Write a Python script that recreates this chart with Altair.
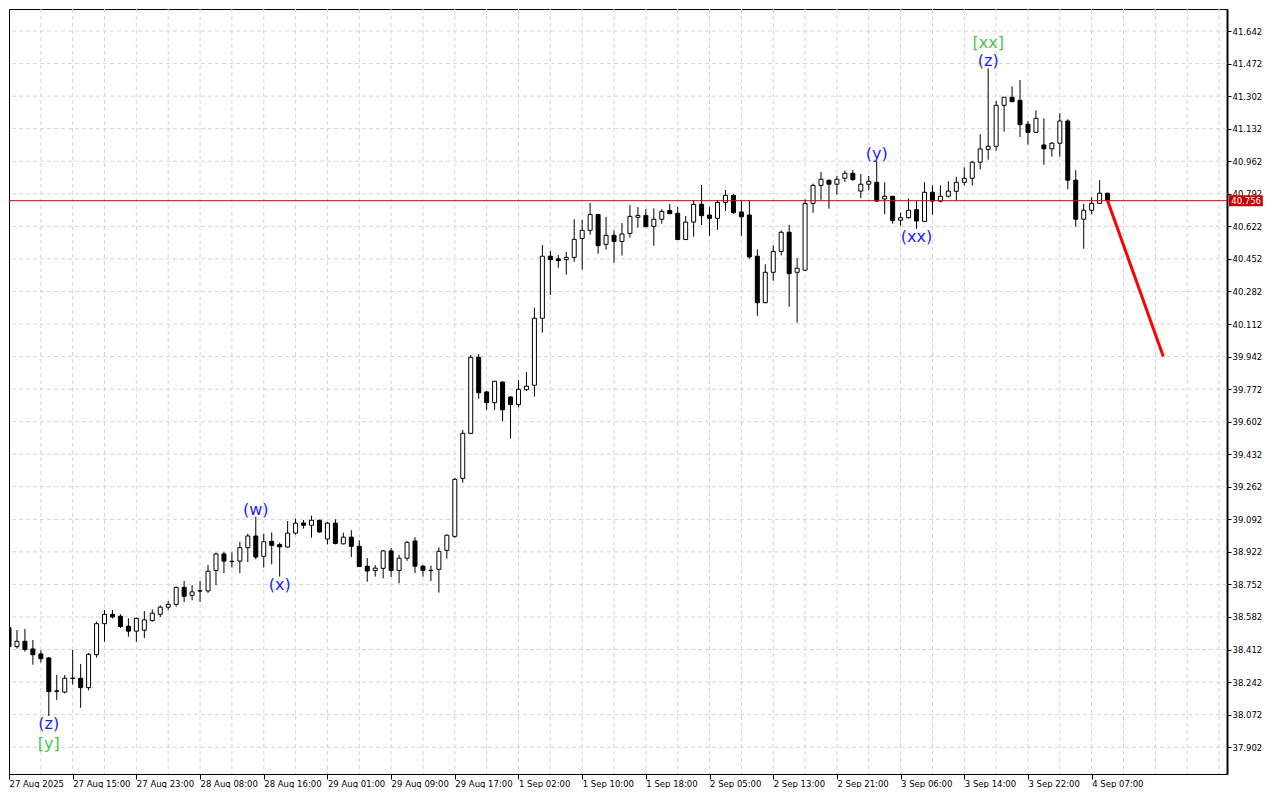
import json
import altair as alt
import numpy as np
import pandas as pd

# ---------------- data ----------------
opens = [38.526, 38.427, 38.455, 38.415, 38.389, 38.368, 38.196, 38.190, 38.261, 38.262,
         38.213, 38.385, 38.547, 38.596, 38.586, 38.534, 38.508, 38.513, 38.563, 38.596,
         38.633, 38.648, 38.737, 38.695, 38.717, 38.718, 38.825, 38.911, 38.871, 38.874,
         38.944, 39.005, 38.899, 38.977, 38.960, 38.947, 39.020, 39.073, 39.061, 39.087,
         38.989, 39.072, 38.964, 38.999, 38.951, 38.847, 38.825, 38.836, 38.927, 38.825,
         38.889, 38.979, 38.847, 38.826, 38.831, 38.930, 39.003, 39.306, 39.541, 39.938,
         39.757, 39.701, 39.809, 39.731, 39.691, 39.769, 39.792, 40.142, 40.466, 40.452,
         40.448, 40.460, 40.559, 40.601, 40.684, 40.528, 40.575, 40.543, 40.585, 40.669,
         40.679, 40.622, 40.659, 40.705, 40.690, 40.553, 40.644, 40.737, 40.681, 40.664,
         40.747, 40.784, 40.697, 40.681, 40.466, 40.223, 40.382, 40.491, 40.591, 40.382,
         40.393, 40.742, 40.836, 40.863, 40.842, 40.873, 40.899, 40.806, 40.842, 40.852,
         40.765, 40.779, 40.654, 40.667, 40.709, 40.648, 40.800, 40.754, 40.779, 40.805,
         40.852, 40.873, 40.957, 41.024, 41.040, 41.254, 41.296, 41.280, 41.155, 41.113,
         41.047, 41.027, 41.056, 41.172, 40.863, 40.659, 40.706, 40.742, 40.795]
highs = [38.530, 38.514, 38.519, 38.462, 38.408, 38.373, 38.279, 38.279, 38.410, 38.337,
         38.394, 38.558, 38.619, 38.619, 38.596, 38.575, 38.579, 38.613, 38.622, 38.643,
         38.666, 38.740, 38.770, 38.748, 38.770, 38.854, 38.918, 38.922, 38.920, 38.975,
         39.017, 39.106, 39.017, 39.024, 38.970, 39.083, 39.096, 39.089, 39.111, 39.090,
         39.078, 39.092, 39.022, 39.035, 38.982, 38.890, 38.853, 38.932, 38.941, 38.906,
         38.977, 38.999, 38.854, 38.850, 38.946, 39.014, 39.308, 39.558, 39.950, 39.955,
         39.762, 39.815, 39.811, 39.734, 39.820, 39.862, 40.197, 40.524, 40.493, 40.472,
         40.488, 40.659, 40.655, 40.744, 40.686, 40.671, 40.601, 40.639, 40.733, 40.723,
         40.712, 40.716, 40.712, 40.738, 40.723, 40.676, 40.759, 40.838, 40.724, 40.758,
         40.812, 40.792, 40.758, 40.758, 40.502, 40.424, 40.523, 40.601, 40.630, 40.455,
         40.763, 40.845, 40.906, 40.865, 40.886, 40.913, 40.916, 40.895, 40.885, 40.963,
         40.852, 40.781, 40.693, 40.768, 40.754, 40.852, 40.836, 40.836, 40.857, 40.881,
         40.930, 40.963, 41.103, 41.447, 41.277, 41.298, 41.353, 41.386, 41.172, 41.228,
         41.186, 41.062, 41.213, 41.181, 40.915, 40.739, 40.774, 40.863, 40.797]
lows = [38.420, 38.417, 38.401, 38.333, 38.344, 38.065, 38.149, 38.183, 38.229, 38.108,
        38.199, 38.370, 38.453, 38.575, 38.525, 38.479, 38.453, 38.472, 38.558, 38.582,
        38.617, 38.636, 38.660, 38.669, 38.660, 38.708, 38.748, 38.811, 38.840, 38.811,
        38.869, 38.883, 38.840, 38.857, 38.793, 38.945, 39.012, 39.044, 38.996, 39.022,
        38.961, 38.961, 38.961, 38.895, 38.843, 38.766, 38.793, 38.784, 38.791, 38.758,
        38.875, 38.811, 38.793, 38.770, 38.709, 38.887, 38.995, 39.283, 39.538, 39.722,
        39.664, 39.664, 39.605, 39.513, 39.676, 39.762, 39.733, 40.067, 40.263, 40.406,
        40.370, 40.437, 40.396, 40.578, 40.479, 40.500, 40.432, 40.470, 40.563, 40.615,
        40.618, 40.521, 40.636, 40.686, 40.551, 40.551, 40.568, 40.629, 40.573, 40.604,
        40.702, 40.688, 40.573, 40.453, 40.155, 40.221, 40.338, 40.470, 40.202, 40.119,
        40.391, 40.693, 40.761, 40.714, 40.787, 40.855, 40.860, 40.769, 40.810, 40.752,
        40.685, 40.636, 40.625, 40.662, 40.610, 40.646, 40.683, 40.747, 40.772, 40.754,
        40.836, 40.836, 40.920, 40.970, 41.017, 41.116, 41.271, 41.089, 41.049, 41.111,
        40.944, 40.986, 40.986, 40.816, 40.620, 40.505, 40.686, 40.740, 40.754]
closes = [38.427, 38.455, 38.412, 38.385, 38.364, 38.192, 38.194, 38.262, 38.263, 38.213,
          38.387, 38.547, 38.596, 38.582, 38.532, 38.508, 38.575, 38.567, 38.602, 38.633,
          38.648, 38.737, 38.690, 38.713, 38.719, 38.821, 38.911, 38.874, 38.873, 38.944,
          39.005, 38.895, 38.975, 38.956, 38.948, 39.020, 39.072, 39.061, 39.087, 39.026,
          39.072, 38.966, 38.999, 38.951, 38.845, 38.822, 38.837, 38.927, 38.825, 38.889,
          38.972, 38.847, 38.825, 38.824, 38.925, 39.009, 39.301, 39.541, 39.938, 39.753,
          39.701, 39.813, 39.664, 39.691, 39.771, 39.787, 40.142, 40.466, 40.448, 40.443,
          40.460, 40.554, 40.601, 40.684, 40.521, 40.575, 40.543, 40.582, 40.674, 40.679,
          40.620, 40.659, 40.700, 40.688, 40.553, 40.644, 40.737, 40.678, 40.664, 40.747,
          40.784, 40.693, 40.672, 40.462, 40.223, 40.382, 40.491, 40.591, 40.375, 40.403,
          40.742, 40.836, 40.868, 40.842, 40.868, 40.899, 40.866, 40.842, 40.857, 40.754,
          40.779, 40.652, 40.667, 40.706, 40.650, 40.800, 40.754, 40.779, 40.806, 40.852,
          40.873, 40.957, 41.026, 41.040, 41.254, 41.296, 41.273, 41.153, 41.113, 41.186,
          41.027, 41.056, 41.172, 40.863, 40.659, 40.706, 40.742, 40.795, 40.756]

time_labels = ["27 Aug 2025", "27 Aug 15:00", "27 Aug 23:00", "28 Aug 08:00", "28 Aug 16:00",
               "29 Aug 01:00", "29 Aug 09:00", "29 Aug 17:00", "1 Sep 02:00", "1 Sep 10:00",
               "1 Sep 18:00", "2 Sep 05:00", "2 Sep 13:00", "2 Sep 21:00", "3 Sep 06:00",
               "3 Sep 14:00", "3 Sep 22:00", "4 Sep 07:00"]
price_ticks = [41.642, 41.472, 41.302, 41.132, 40.962, 40.792, 40.622, 40.452, 40.282,
               40.112, 39.942, 39.772, 39.602, 39.432, 39.262, 39.092, 38.922, 38.752,
               38.582, 38.412, 38.242, 38.072, 37.902]

current_price = 40.756
forecast_bars = [138, 145]
forecast_prices = [40.756, 39.942]

wave_text = ["(z)", "[y]", "(w)", "(x)", "(y)", "(xx)", "(z)", "[xx]"]
wave_bar = [5, 5, 31, 34, 109, 114, 123, 123]
wave_price = [38.065, 38.065, 39.106, 38.793, 40.963, 40.610, 41.447, 41.447]
wave_side = ["below", "below", "above", "below", "above", "below", "above", "above"]
wave_level = [0, 1, 0, 0, 0, 0, 0, 1]
wave_color = ["blue", "green", "blue", "blue", "blue", "blue", "blue", "green"]

# ---------------- tables ----------------
N = len(opens)
df = pd.DataFrame({"i": np.arange(N), "open": opens, "high": highs,
                   "low": lows, "close": closes})
df["dir"] = np.where(df["close"] >= df["open"], "up", "down")

waves = pd.DataFrame({"i": wave_bar, "p": wave_price, "t": wave_text,
                      "side": wave_side, "lvl": wave_level, "c": wave_color})

vgrid = pd.DataFrame({"i": list(range(4, 153, 4))})
hgrid = pd.DataFrame({"p": price_ticks})

X_DOMAIN = [0, 153]
Y_DOMAIN = [37.762, 41.757]
xs = alt.Scale(domain=X_DOMAIN, nice=False, zero=False, padding=0)
ys = alt.Scale(domain=Y_DOMAIN, nice=False, zero=False, padding=0)

FONT = "DejaVu Sans"
WAVE_FONT = "DejaVu Sans"
label_expr = json.dumps(time_labels) + "[round(datum.value / 8)]"
x_axis = alt.Axis(values=list(range(0, 8 * len(time_labels), 8)), labelExpr=label_expr,
                  labelAlign="left", labelBaseline="top", labelFlush=False,
                  labelOverlap=False, grid=False, tickSize=5, labelPadding=0,
                  domainColor="black", tickColor="black", labelColor="black",
                  labelFont=FONT, labelFontSize=8.5, title=None)
y_axis = alt.Axis(orient="right", values=price_ticks, format=".3f", grid=False,
                  tickSize=4, labelPadding=1, domainColor="black", domainWidth=2,
                  tickColor="black", labelColor="black", labelFont=FONT,
                  labelFontSize=8.5, title=None, labelOverlap=False, labelFlush=False)


def X(field):
    return alt.X(f"{field}:Q", scale=xs, axis=x_axis, title=None)


def Y(field):
    return alt.Y(f"{field}:Q", scale=ys, axis=y_axis, title=None)


GRID = "#d6d6d6"
vgrid_l = alt.Chart(vgrid).mark_rule(color=GRID, strokeDash=[4, 3], strokeWidth=1).encode(x=X("i"))
hgrid_l = alt.Chart(hgrid).mark_rule(color=GRID, strokeDash=[4, 3], strokeWidth=1).encode(y=Y("p"))

wicks = alt.Chart(df).mark_rule(color="black", strokeWidth=1, clip=True).encode(
    x=X("i"), y=Y("low"), y2="high")
bodies = alt.Chart(df).mark_bar(size=4, stroke="black", strokeWidth=1, clip=True).encode(
    x=X("i"), y=Y("open"), y2="close",
    fill=alt.Fill("dir:N", scale=alt.Scale(domain=["up", "down"], range=["white", "black"]),
                  legend=None))

price_line = alt.Chart(pd.DataFrame({"p": [current_price]})).mark_rule(
    color="#dd0000", strokeWidth=1).encode(y=Y("p"))

forecast = alt.Chart(pd.DataFrame({"i": forecast_bars, "p": forecast_prices})).mark_line(
    color="#ff0000", strokeWidth=3).encode(x=X("i"), y=Y("p"))

# price tag on the right axis
tag = alt.Chart(pd.DataFrame({"i": [153.25], "i2": [157.5],
                              "p": [current_price + 0.029], "p2": [current_price - 0.029]})
                ).mark_rect(color="#c80000", clip=False).encode(
    x=X("i"), x2="i2", y=Y("p"), y2="p2")
tag_text = alt.Chart(pd.DataFrame({"i": [155.4], "p": [current_price], "t": [f"{current_price:.3f}"]})
                     ).mark_text(color="white", font=FONT, fontSize=8.5, align="center",
                                 baseline="middle", clip=False).encode(
    x=X("i"), y=Y("p"), text="t:N")

color_scale = alt.Scale(domain=["blue", "green"], range=["#1c1cff", "#4cc44c"])
wave_layers = []
for side, lvl, base, dy in [("above", 0, "bottom", 1), ("above", 1, "bottom", -17),
                            ("below", 0, "top", 0), ("below", 1, "top", 20)]:
    sub = waves[(waves.side == side) & (waves.lvl == lvl)]
    if len(sub) == 0:
        continue
    wave_layers.append(
        alt.Chart(sub).mark_text(font=WAVE_FONT, fontSize=16, baseline=base, align="center", dy=dy)
        .encode(x=X("i"), y=Y("p"), text="t:N",
                color=alt.Color("c:N", scale=color_scale, legend=None)))

chart = alt.layer(vgrid_l, hgrid_l, wicks, bodies, price_line, forecast, *wave_layers,
                  tag, tag_text).properties(
    width=1218, height=765, padding={"left": 0, "top": 0, "right": 0, "bottom": 0},
    background="white"
).resolve_scale(color="independent").configure_view(stroke="black", strokeWidth=1)

chart.save("out.html", embed_options={"renderer": "svg", "actions": False})
